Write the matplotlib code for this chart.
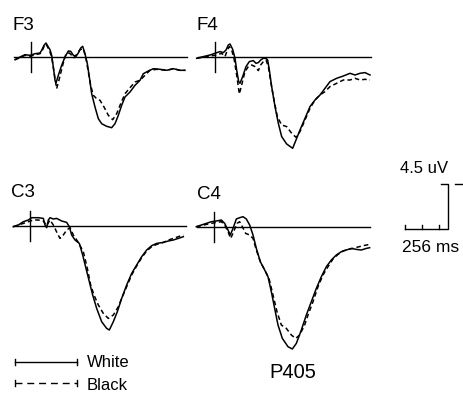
import matplotlib
matplotlib.use("Agg")
import matplotlib.pyplot as plt

plt.rcParams['font.family'] = ['Liberation Sans', 'DejaVu Sans']

W, H = 463, 394
MS_PER_PX = 6.0     # horizontal scale of every trace panel
UV_PER_PX = 0.1     # vertical scale of every trace panel

# ERP traces: time (ms, 0 = stimulus onset) and amplitude (uV, positive plotted down)
f3_white_t = [-96, -66, -36, -6, 24, 54, 64, 78, 90, 104, 114, 124, 134, 144, 150, 164, 184, 204, 224, 238,
              254, 270, 284, 298, 310, 324, 338, 350, 364, 384, 404, 424, 454, 484, 504, 524, 544, 564, 594,
              624, 654, 674, 704, 734, 774, 814, 854, 894, 924]
f3_white_v = [0.27, 0, -0.23, -0.17, -0.33, -0.4, -0.67, -1.17, -1.4, -1.0, -0.73, -0.17, 1.0, 2.33, 2.6, 1.83,
              0.83, 0, -0.6, -0.57, -0.17, -0.07, -0.4, -0.9, -1.07, -0.33, 0.67, 2.0, 3.67, 5.0, 6.17, 6.67,
              6.93, 7.07, 6.67, 5.83, 4.83, 4.0, 3.5, 2.83, 2.33, 1.67, 1.4, 1.17, 1.23, 1.33, 1.17, 1.33, 1.33]
f3_black_t = [-96, -66, -36, -6, 24, 54, 70, 84, 94, 110, 124, 138, 154, 170, 190, 210, 230, 244, 258, 274,
              294, 314, 330, 344, 358, 374, 394, 414, 438, 464, 490, 514, 538, 564, 594, 624, 654, 684, 714,
              754, 814, 854, 894, 924]
f3_black_v = [0.27, 0.07, -0.17, -0.07, -0.23, -0.33, -0.73, -1.27, -1.17, -0.67, 0, 1.5, 3.17, 2.17, 0.83,
              -0.33, -0.4, -0.17, 0.07, -0.27, -0.73, -0.83, 0.17, 1.5, 2.83, 3.83, 4.17, 4.33, 5.0, 5.83,
              6.27, 5.67, 4.67, 3.67, 3.07, 2.5, 2.33, 1.83, 1.33, 1.23, 1.33, 1.17, 1.33, 1.33]

f4_white_t = [-110, -70, -30, 0, 30, 50, 66, 80, 90, 106, 120, 130, 142, 150, 166, 186, 206, 230, 246, 260,
              274, 290, 306, 316, 326, 340, 360, 380, 400, 430, 466, 486, 510, 540, 570, 600, 630, 660, 690,
              730, 770, 810, 840, 870, 900, 930]
f4_white_v = [0.1, -0.07, -0.23, -0.4, -0.57, -0.47, -0.73, -1.23, -1.33, -0.8, 0.1, 1.27, 2.43, 2.6, 1.93,
              0.93, 0.43, 0.33, 0.6, 0.53, 0.27, 0.1, 0.1, 0.27, 1.27, 2.93, 4.93, 6.6, 7.93, 8.67, 9.1, 8.27,
              7.27, 6.1, 4.93, 4.27, 3.77, 3.1, 2.43, 2.1, 1.87, 1.6, 1.77, 1.6, 1.53, 1.77]
f4_black_t = [-110, -70, -30, 10, 40, 60, 76, 86, 100, 114, 130, 146, 160, 180, 200, 220, 240, 260, 274, 290,
              306, 320, 336, 354, 374, 400, 430, 460, 486, 510, 540, 570, 600, 630, 660, 690, 730, 770, 810,
              840, 870, 900, 930]
f4_black_v = [0.1, 0, -0.13, -0.23, -0.4, -0.07, -0.8, -1.07, -0.73, 0.1, 1.77, 3.67, 2.77, 1.43, 0.93, 0.77,
              0.93, 1.33, 0.77, 0.43, 0.27, 0.93, 2.6, 4.27, 5.93, 6.77, 6.93, 7.6, 8.0, 7.43, 6.27, 5.1,
              4.27, 3.77, 3.43, 2.93, 2.6, 2.27, 2.27, 2.1, 2.27, 2.2, 2.27]

c3_white_t = [-100, -70, -40, -10, 10, 50, 80, 90, 100, 110, 120, 140, 160, 190, 220, 236, 250, 270, 296, 316,
              336, 356, 376, 400, 430, 460, 476, 500, 524, 550, 580, 610, 640, 670, 700, 730, 760, 800, 830,
              860, 890, 920]
c3_white_v = [0.1, -0.07, -0.4, -0.57, -0.8, -0.8, -0.73, -0.07, 0.2, -0.57, -0.8, -0.67, -0.73, -0.47, -0.33,
              0.1, 0.93, 1.43, 1.77, 2.93, 4.27, 5.6, 6.93, 8.27, 9.6, 10.27, 10.43, 9.6, 8.6, 7.27, 5.93,
              4.77, 3.93, 3.1, 2.43, 2.0, 1.77, 1.67, 1.53, 1.43, 1.27, 1.1]
c3_black_t = [-100, -70, -40, -10, 20, 50, 80, 100, 120, 140, 164, 180, 200, 220, 240, 260, 290, 320, 344, 364,
              384, 410, 440, 470, 500, 530, 550, 580, 610, 640, 670, 700, 730, 760, 800, 830, 860, 890, 920]
c3_black_v = [0.1, -0.07, -0.23, -0.4, -0.57, -0.57, -0.47, 0, -0.57, -0.07, 0.77, 1.27, 0.93, 0.43, 0.2,
              0.93, 1.67, 2.6, 4.27, 5.93, 6.93, 7.93, 8.77, 9.27, 8.93, 8.1, 7.27, 6.1, 4.93, 4.03, 3.2,
              2.53, 2.1, 1.87, 1.67, 1.43, 1.27, 1.1, 0.93]

c4_white_t = [-106, -76, -46, -16, 14, 44, 64, 84, 98, 114, 134, 154, 174, 194, 214, 234, 254, 278, 304, 324,
              344, 364, 384, 410, 444, 470, 494, 524, 554, 584, 614, 644, 674, 704, 734, 764, 794, 824, 854,
              884, 914, 934]
c4_white_v = [0, -0.17, -0.33, -0.5, -0.57, -0.67, -0.33, 0.33, 0.83, 0.17, -0.77, -0.9, -1.0, -0.77, -0.17,
              0.83, 2.17, 3.5, 4.33, 5.0, 6.5, 8.17, 9.83, 11.17, 12.0, 12.23, 11.67, 10.33, 8.83, 7.5, 6.17,
              5.0, 4.0, 3.33, 2.83, 2.5, 2.33, 2.17, 2.27, 2.33, 2.17, 2.1]
c4_black_t = [-106, -76, -46, -16, 14, 44, 64, 84, 100, 118, 138, 154, 170, 190, 214, 234, 254, 278, 304, 330,
              354, 378, 404, 434, 464, 490, 514, 544, 564, 594, 624, 654, 684, 714, 744, 774, 804, 834, 864,
              894, 934]
c4_black_v = [0, -0.1, -0.23, -0.33, -0.43, -0.5, -0.17, 0.5, 1.17, 0.5, -0.33, -0.5, 0, 0.67, 0.83, 1.17,
              2.33, 3.5, 4.33, 5.17, 6.83, 8.5, 9.83, 10.17, 10.83, 11.17, 10.83, 9.83, 8.83, 7.5, 6.0, 4.83,
              4.0, 3.23, 2.77, 2.43, 2.27, 2.17, 2.03, 1.9, 1.77]

channels = ['F3', 'F4', 'C3', 'C4']
white_t = [f3_white_t, f4_white_t, c3_white_t, c4_white_t]
white_v = [f3_white_v, f4_white_v, c3_white_v, c4_white_v]
black_t = [f3_black_t, f4_black_t, c3_black_t, c4_black_t]
black_v = [f3_black_v, f4_black_v, c3_black_v, c4_black_v]

# onset / baseline position of each panel on the page (pixels)
origins = [(31, 57), (215, 57.3), (30, 225.7), (214, 226.7)]
label_pos = [(12, 30), (197, 29.5), (11.5, 197), (196.5, 198.5)]

scale_ms = 256
scale_uv = 4.5

LW = 1.1
DASH = (3, 2)

fig = plt.figure(figsize=(W / 100, H / 100), dpi=100)

# page overlay in pixel units for labels and the key
page = fig.add_axes([0, 0, 1, 1])
page.set_xlim(0, W)
page.set_ylim(H, 0)
page.axis('off')


def panel_axes(x0, y0, left=30, right=165, up=35, down=130):
    ax = fig.add_axes([(x0 - left) / W, 1 - (y0 + down) / H, (left + right) / W, (up + down) / H])
    ax.set_xlim(-left * MS_PER_PX, right * MS_PER_PX)
    ax.set_ylim(down * UV_PER_PX, -up * UV_PER_PX)
    ax.axis('off')
    return ax


for i, ch in enumerate(channels):
    x0, y0 = origins[i]
    ax = panel_axes(x0, y0)
    ax.plot([-100, 936], [0, 0], color='black', lw=1.0)
    ax.plot([0, 0], [-1.5, 1.5], color='black', lw=1.0)
    ax.plot(white_t[i], white_v[i], color='black', lw=LW, solid_joinstyle='round')
    ax.plot(black_t[i], black_v[i], color='black', lw=LW, dashes=DASH)
    page.text(label_pos[i][0], label_pos[i][1], ch, fontsize=13.5, ha='left', va='baseline')

# calibration bar (same scale as the panels, y pointing up)
sx, sy = 448, 229
sb = fig.add_axes([(sx - 68) / W, 1 - (sy + 11) / H, 83 / W, 70 / H])
sb.set_xlim(-68 * MS_PER_PX, 15 * MS_PER_PX)
sb.set_ylim(-11 * UV_PER_PX, 59 * UV_PER_PX)
sb.axis('off')
sb.plot([-scale_ms, 0, 0, -42], [0, 0, scale_uv, scale_uv], color='black', lw=1.0)
for tk in [-scale_ms, -scale_ms + 100, -scale_ms + 200]:
    sb.plot([tk, tk], [0, 0.4], color='black', lw=1.0)
sb.plot([42, 84], [scale_uv, scale_uv], color='black', lw=1.0)
page.text(400, 173, f'{scale_uv} uV', fontsize=12, ha='left', va='baseline')
page.text(402.5, 252, f'{scale_ms} ms', fontsize=12.5, ha='left', va='baseline')

# key
page.plot([15, 77], [362, 362], color='black', lw=1.0)
page.plot([15, 15], [359, 365], color='black', lw=1.0)
page.plot([77, 77], [359, 365], color='black', lw=1.0)
page.plot([15, 77], [383, 383], color='black', lw=1.0, dashes=(5, 3.5))
page.plot([15, 15], [380, 386], color='black', lw=1.0)
page.plot([77, 77], [380, 386], color='black', lw=1.0)
page.text(86.5, 367, 'White', fontsize=12, ha='left', va='baseline')
page.text(86.5, 389.5, 'Black', fontsize=12, ha='left', va='baseline')

page.text(269.5, 378, 'P405', fontsize=14.5, ha='left', va='baseline')

fig.savefig('out.png', dpi=100)
